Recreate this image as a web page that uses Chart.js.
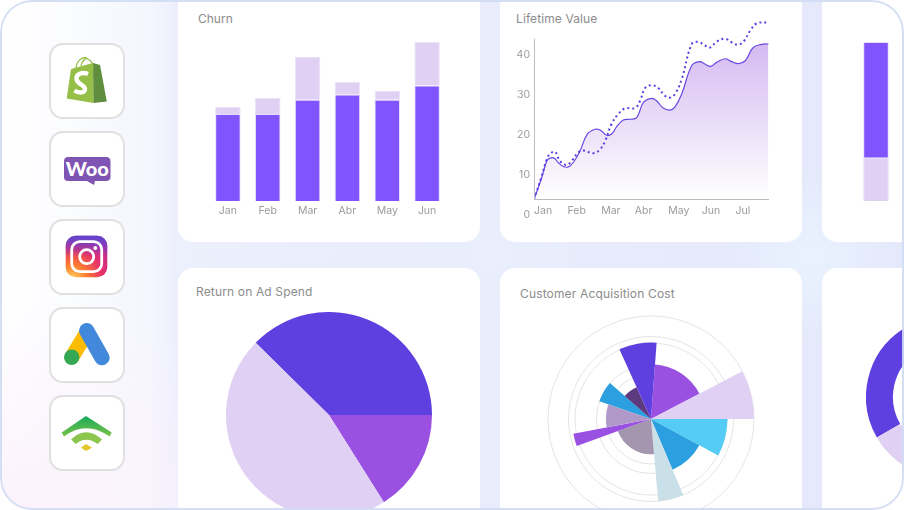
<!DOCTYPE html>
<html>
<head>
<meta charset="utf-8">
<script src="https://cdn.jsdelivr.net/npm/chart.js@4/dist/chart.umd.min.js"></script>
<style>
html,body{margin:0;padding:0;background:#fff;width:904px;height:510px;overflow:hidden}
body{font-family:Inter,sans-serif}
.frame{position:absolute;left:0;top:0;width:904px;height:510px;border-radius:32px;overflow:hidden;
  background:
    radial-gradient(90px 90px at 811px 255px,#e9f2fe,rgba(233,242,254,0)),
    radial-gradient(90px 70px at 490px 255px,#e9effd,rgba(233,239,253,0)),
    radial-gradient(260px 220px at 40px 520px,#fbf1fc,rgba(251,241,252,0)),
    linear-gradient(90deg,#fff 0,#fbfcff 70px,#f5f6fe 150px,#eceffc 178px,#e4e8fb 100%)}
.edge{position:absolute;left:0;top:0;width:904px;height:510px;box-sizing:border-box;border:2px solid rgba(208,219,243,.9);border-radius:32px;pointer-events:none}
.card{position:absolute;background:#fff;border-radius:15px}
.title{position:absolute;font-size:12px;color:#8c8c8c;white-space:nowrap;line-height:14px}
canvas{position:absolute}
.tile{position:absolute;left:49px;width:76px;height:76px;box-sizing:border-box;background:#fff;border:2px solid #e0e0e0;border-radius:14px}
#icons{position:absolute;left:0;top:0}
</style>
</head>
<body>
<div class="frame">
  <div class="card" style="left:178px;top:-30px;width:302px;height:272px"></div>
  <div class="card" style="left:500px;top:-30px;width:302px;height:272px"></div>
  <div class="card" style="left:822px;top:-30px;width:120px;height:272px"></div>
  <div class="card" style="left:178px;top:268px;width:302px;height:272px"></div>
  <div class="card" style="left:500px;top:268px;width:302px;height:272px"></div>
  <div class="card" style="left:822px;top:268px;width:120px;height:272px"></div>

  <div class="tile" style="top:43px"></div>
  <div class="tile" style="top:131px"></div>
  <div class="tile" style="top:219px"></div>
  <div class="tile" style="top:307px"></div>
  <div class="tile" style="top:395px"></div>

  <svg id="icons" width="904" height="510" viewBox="0 0 904 510">
    <defs>
      <radialGradient id="ig1" gradientUnits="userSpaceOnUse" cx="72" cy="280" r="52">
        <stop offset="0" stop-color="#ffd95e"/><stop offset=".3" stop-color="#fd7a2e"/>
        <stop offset=".6" stop-color="#e5306b"/><stop offset="1" stop-color="#b22aa6"/>
      </radialGradient>
      <linearGradient id="ig2" x1="0" y1="0" x2="0" y2="1">
        <stop offset="0" stop-color="#5c46d2"/><stop offset=".5" stop-color="#5c46d2" stop-opacity="0"/>
      </linearGradient>
      <linearGradient id="wifi" x1="0" y1="0" x2="0" y2="1">
        <stop offset="0" stop-color="#16ab5c"/><stop offset="1" stop-color="#7cc246"/>
      </linearGradient>
    </defs>
    <!-- shopify -->
    <path d="M71 69 L93 63 L93.5 103 L66.7 98.5 Z" fill="#95bf47"/>
    <path d="M93 63 L100 65 L106.8 101.5 L93.5 103 Z" fill="#5e8e3e"/>
    <path d="M76 68 C77 59 84 56 88 59 C92 61 93 64 93 68 M81 66 C82 60 86 58 88 59" fill="none" stroke="#95bf47" stroke-width="1.3"/>
    <path d="M88 74 C82 71.5 76 74 76.5 79 C77 84.5 85 84.5 85 89 C85 93 79 93.5 74.5 90.5" fill="none" stroke="#fff" stroke-width="4.4"/>
    <!-- woo -->
    <path d="M68 157 H106 Q110.5 157 110.5 161.5 V177 Q110.5 181 106 181 H95 L94 185 L87 181 H68 Q64 181 64 177 V161.5 Q64 157 68 157 Z" fill="#7f54b3"/>
    <text x="87.3" y="176" text-anchor="middle" font-family="Lato" font-weight="900" font-size="19.5" fill="#fff" textLength="43" lengthAdjust="spacingAndGlyphs">Woo</text>
    <!-- instagram -->
    <rect x="65.7" y="235.7" width="41.6" height="41.6" rx="10" fill="url(#ig1)"/>
    <rect x="65.7" y="235.7" width="41.6" height="41.6" rx="10" fill="url(#ig2)"/>
    <rect x="71.7" y="241.7" width="30" height="30" rx="8" fill="none" stroke="#fff" stroke-width="2.8"/>
    <circle cx="86.7" cy="256.7" r="7" fill="none" stroke="#fff" stroke-width="2.8"/>
    <circle cx="95.3" cy="248" r="1.9" fill="#fff"/>
    <!-- google ads -->
    <line x1="86" y1="334" x2="71.7" y2="357.3" stroke="#fbbc04" stroke-width="15"/>
    <line x1="86.7" y1="330.7" x2="102" y2="357.7" stroke="#4289dc" stroke-width="15.3" stroke-linecap="round"/>
    <circle cx="71.7" cy="357.3" r="7.7" fill="#34a853"/>
    <!-- wifi mark -->
    <path d="M86 416 L111.7 432.5 L109.5 436.5 Q86 420 64 436.5 L61.7 432.5 Z" fill="url(#wifi)"/>
    <path d="M71 439.5 Q86 425 102 439.5 L97.7 444 Q86 435.5 75.7 444 Z" fill="#8dc64f"/>
    <path d="M86 444 L92 447.7 L86 451 L81 447.7 Z" fill="#e3c72e"/>
  </svg>

  <div class="title" style="left:198px;top:12px">Churn</div>
  <div class="title" style="left:516px;top:12px;letter-spacing:.1px">Lifetime Value</div>
  <div class="title" style="left:196px;top:285px;letter-spacing:.15px">Return on Ad Spend</div>
  <div class="title" style="left:520px;top:287px;letter-spacing:.15px">Customer Acquisition Cost</div>

  <canvas id="churn" width="239" height="190" style="left:208px;top:36px;width:239px;height:190px"></canvas>
  <canvas id="churn2" width="80" height="166" style="left:856px;top:36px;width:80px;height:166px"></canvas>
  <canvas id="ltv" width="269" height="218" style="left:500px;top:10px;width:269px;height:218px"></canvas>
  <canvas id="roas" width="206" height="206" style="left:226px;top:312px;width:206px;height:206px"></canvas>
  <canvas id="cac" width="208" height="208" style="left:547px;top:315px;width:208px;height:208px"></canvas>
  <canvas id="donut" width="162" height="162" style="left:866px;top:316px;width:162px;height:162px"></canvas>
  <div class="edge"></div>
</div>

<script>
const churnMonths = ['Jan','Feb','Mar','Abr','May','Jun'];
const churnBase = [54.7,54.7,63.7,67,63.7,72.7];
const churnTop = [4.4,10.1,27.1,8,5.7,27.3];

const churn2Months = ['A','B'];
const churn2Light = [27.2,36.5];
const churn2Dark = [72.8,63];

const ltvMonths = ['Jan','Feb','Mar','Abr','May','Jun','Jul'];
const ltvActualX = [0,.23,.38,.48,.6,.72,.87,1.02,1.17,1.37,1.59,1.82,1.97,2.16,2.31,2.46,2.66,2.86,3.06,3.26,3.51,3.65,3.85,4.05,4.2,4.4,4.7,4.93,5.09,5.26,5.44,5.69,5.89,6.09,6.29,6.53,6.78,6.98];
const ltvActual = [3.9,9.3,13.5,14.2,14.2,13.1,12.1,12,13.1,16,20.2,21.4,21.2,19.9,20.2,22,23.7,23.9,24.3,28.1,29.1,28.5,26.7,26.2,27,30.2,37.3,38.3,37.7,37.1,38.1,39,38.3,37.8,38.5,41.8,42.6,42.7];
const ltvTargetX = [0,.23,.38,.48,.63,.77,.97,1.12,1.32,1.47,1.77,1.97,2.12,2.31,2.51,2.71,3.01,3.16,3.31,3.51,3.7,3.9,4.05,4.2,4.4,4.7,4.9,5.06,5.24,5.44,5.69,5.89,6.09,6.26,6.44,6.63,6.98];
const ltvTarget = [3.9,9.75,13.9,15.3,15.75,13.5,12.5,13.5,15.6,16.1,15.4,16.4,18.5,22.7,25.2,26.6,26.7,28.5,31.7,32.4,31.7,29.75,29.3,30.2,33.9,42.7,43.2,42.5,41.8,43.25,44,43.1,42.5,43.5,46,47.8,48.1];

const roasLabels = ['A','B','C'];
const roasValues = [135.4,57.8,166.8];
const roasColors = ['#5e3fe0','#9a50e0','#e0d0f3'];

const cacLabels = ['A','B','C','D','E','F','G','H','I','J','K'];
const cacValues = [54.6,103,76.5,55,82.5,35.3,79,45,54.6,35,76.5];
const cacAngles = [58.2,27.6,28.5,38.5,18,75,9.3,29.6,22.3,24.4,28.6];
const cacColors = ['#9a50e0','#e0d0f3','#55ccf5','#2b9fdf','#cae0e9','#a496ae','#9a50e0','#b098c8','#2b9fdf','#5d3a80','#5e3fe0'];
const cacRings = [0,45,54.5,76,82.5,103];

const donutLabels = ['A','B','C'];
const donutValues = [86,134,140];
const donutColors = ['#5e3fe0','#9a50e0','#e0d0f3'];

const DARK='#8055ff', LIGHT='#e0d0f3', TICK='#9b9b9b';
Chart.defaults.font.family='Inter';
Chart.defaults.font.size=10.5;
Chart.defaults.color=TICK;
Chart.defaults.animation=false;
Chart.defaults.responsive=false;
Chart.defaults.plugins.legend.display=false;
Chart.defaults.plugins.tooltip.enabled=false;

new Chart(document.getElementById('churn'),{
  type:'bar',
  data:{labels:churnMonths,datasets:[
    {data:churnBase,backgroundColor:DARK,borderColor:'#e6dcfa',borderWidth:1},
    {data:churnTop,backgroundColor:LIGHT,borderColor:'#ebe2f8',borderWidth:1}
  ]},
  options:{
    layout:{padding:{top:6}},
    datasets:{bar:{barPercentage:.64,categoryPercentage:1}},
    scales:{
      x:{stacked:true,grid:{display:false,drawTicks:false},border:{display:false},
        ticks:{padding:4,maxRotation:0,autoSkip:false},
        afterFit:s=>{s.height=25}},
      y:{stacked:true,display:false,min:0,max:100}
    }
  }
});

new Chart(document.getElementById('churn2'),{
  type:'bar',
  data:{labels:churn2Months,datasets:[
    {data:churn2Light,backgroundColor:LIGHT,borderColor:'#ebe2f8',borderWidth:1},
    {data:churn2Dark,backgroundColor:DARK,borderColor:'#e6dcfa',borderWidth:1}
  ]},
  options:{
    layout:{padding:{top:6,bottom:1}},
    datasets:{bar:{barPercentage:.64,categoryPercentage:1}},
    scales:{x:{stacked:true,display:false},y:{stacked:true,display:false,min:0,max:100}}
  }
});

// y axis line only runs between these two values, the 0 label sits under the x axis
const ltvAxisTop=44, ltvAxisBase=4;
const axisStub={
  id:'axisStub',
  afterDraw(chart){
    const {ctx,scales:{y},chartArea}=chart;
    const base=Math.round(y.getPixelForValue(ltvAxisBase))+.5;
    ctx.save();
    ctx.strokeStyle='#bdbdbd';
    ctx.lineWidth=1;
    ctx.beginPath();
    ctx.moveTo(chartArea.left+.5,y.getPixelForValue(ltvAxisTop));
    ctx.lineTo(chartArea.left+.5,base);
    ctx.lineTo(chartArea.right,base);
    ctx.stroke();
    ctx.restore();
  }
};

function ltvFill(c){
  const y=c.chart.scales.y;
  const top=y?y.getPixelForValue(43):NaN, base=y?y.getPixelForValue(ltvAxisBase):NaN;
  if(!Number.isFinite(top)||!Number.isFinite(base)) return '#e0d0f3';
  const g=c.chart.ctx.createLinearGradient(0,top,0,base);
  g.addColorStop(0,'#d4baf2');
  g.addColorStop(1,'#ffffff');
  return g;
}

new Chart(document.getElementById('ltv'),{
  type:'line',
  data:{datasets:[
    {data:ltvTargetX.map((x,i)=>({x,y:ltvTarget[i]})),borderColor:'#5b3fe0',borderWidth:2,borderDash:[2,3],tension:.4,pointRadius:0,fill:false},
    {data:ltvActualX.map((x,i)=>({x,y:ltvActual[i]})),borderColor:'#6a48e2',borderWidth:1.2,tension:.4,pointRadius:0,fill:{value:ltvAxisBase},backgroundColor:ltvFill}
  ]},
  options:{
    layout:{padding:{top:3,bottom:13}},
    scales:{
      x:{type:'linear',position:{y:ltvAxisBase},min:0,max:7,
        grid:{display:false,drawTicks:false},border:{display:false},
        afterBuildTicks:s=>{s.ticks=ltvMonths.map((m,i)=>({value:i}))},
        ticks:{align:'start',padding:6,maxRotation:0,autoSkip:false,callback:(v)=>ltvMonths[v]}},
      y:{min:0,max:48.6,grid:{display:false,drawTicks:false},border:{display:false},
        afterFit:s=>{s.width=34},
        ticks:{stepSize:10,includeBounds:false,padding:4}}
    }
  },
  plugins:[axisStub]
});

new Chart(document.getElementById('roas'),{
  type:'pie',
  data:{labels:roasLabels,datasets:[{data:roasValues,backgroundColor:roasColors,borderWidth:0}]},
  options:{rotation:-45.4}
});

new Chart(document.getElementById('cac'),{
  type:'polarArea',
  data:{labels:cacLabels,datasets:[{data:cacValues,backgroundColor:cacColors,borderWidth:0,angle:cacAngles}]},
  options:{
    scales:{r:{min:0,max:104,startAngle:4.2,
      grid:{color:'#e4e4e4',lineWidth:1},
      ticks:{display:false},
      afterBuildTicks:s=>{s.ticks=cacRings.map(value=>({value}))}
    }}
  }
});

new Chart(document.getElementById('donut'),{
  type:'doughnut',
  data:{labels:donutLabels,datasets:[{data:donutValues,backgroundColor:donutColors,borderWidth:0}]},
  options:{rotation:240,cutout:'66.7%'}
});
</script>
</body>
</html>
